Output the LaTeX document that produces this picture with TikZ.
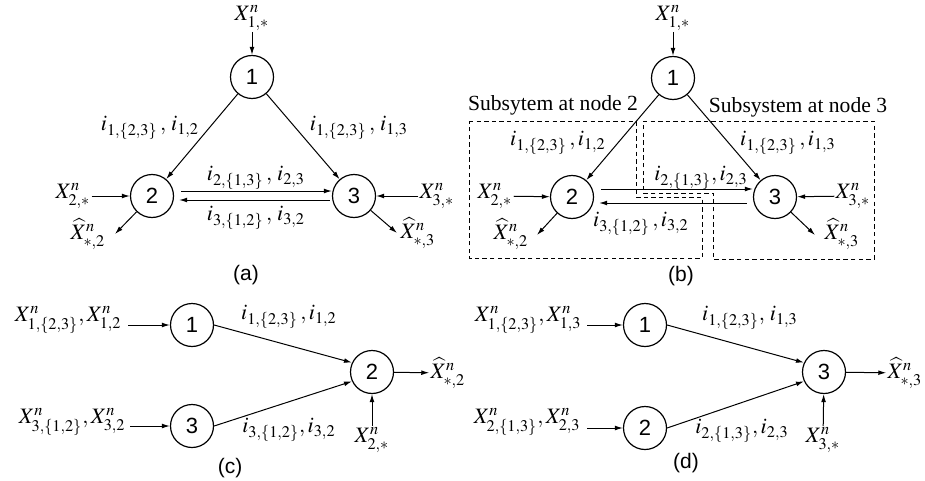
\documentclass[tikz,border=0pt]{standalone}
\usepackage{mathptmx}
\usepackage[no-math]{fontspec}
\setmainfont{Liberation Serif}
\newfontfamily\lsans{Liberation Sans}
\usetikzlibrary{arrows.meta,calc}
\begin{document}
\begin{tikzpicture}[x=0.5pt,y=-0.5pt,
  every node/.style={inner sep=0.5pt},
  circ/.style={circle,draw,line width=0.6pt,inner sep=0pt,minimum size=21.5pt,font=\lsans\fontsize{11}{12}\selectfont},
  lab/.style={font=\fontsize{11}{13}\selectfont},
  txt/.style={font=\fontsize{10.8}{13}\selectfont},
  subcap/.style={font=\lsans\fontsize{10.5}{12}\selectfont},
  arr/.style={-{Latex[length=4pt,width=2.4pt]},line width=0.5pt},
  box/.style={dash pattern=on 2.2pt off 1.6pt,line width=0.5pt}]
\useasboundingbox (0,0) rectangle (925,481);

% ---------------- (a)
\node[circ] (A1) at (252,77) {1};
\node[circ] (A2) at (152,196) {2};
\node[circ] (A3) at (354,196) {3};
\node[lab] (XA1) at (252,18) {$X^n_{1,*}$};
\node[lab] (XA2) at (73,196) {$X^n_{2,*}$};
\node[lab] (XA3) at (437,196) {$X^n_{3,*}$};
\node[lab] (XHA2) at (88,234) {$\widehat{X}^n_{*,2}$};
\node[lab] (XHA3) at (418,233) {$\widehat{X}^n_{*,3}$};
\coordinate (TA2) at (115,234);
\coordinate (TA3) at (397,233);
\draw[arr] (XA1) -- (A1);
\draw[arr] (XA2) -- (A2);
\draw[arr] (XA3) -- (A3);
\draw[arr] (A2) -- (TA2);
\draw[arr] (A3) -- (TA3);
\draw[arr] (A1) -- (A2);
\draw[arr] (A1) -- (A3);
\draw[arr] ([shift={(7,-5)}]A2.east) -- ([shift={(0,-5)}]A3.west);
\draw[arr] ([shift={(-2,4)}]A3.west) -- ([shift={(5,4)}]A2.east);
\node[lab] (LA12) at (150,128) {$i_{1,\{2,3\}}\,,\,i_{1,2}$};
\node[lab] (LA13) at (359,128) {$i_{1,\{2,3\}}\,,\,i_{1,3}$};
\node[lab] (LA23) at (256,178) {$i_{2,\{1,3\}}\,,\,i_{2,3}$};
\node[lab] (LA32) at (256,218) {$i_{3,\{1,2\}}\,,\,i_{3,2}$};
\node[subcap] (CA) at (246,275) {(a)};

% ---------------- (b)
\draw[box] (469,121) -- (636,121) -- (636,197) -- (702,197) -- (702,258) -- (469,258) -- cycle;
\draw[box] (643,121) -- (874,121) -- (874,259) -- (713,259) -- (713,193) -- (643,193) -- cycle;
\node[circ] (B1) at (673,78) {1};
\node[circ] (B2) at (572,197) {2};
\node[circ] (B3) at (775,197) {3};
\node[lab] (XB1) at (673,18) {$X^n_{1,*}$};
\node[lab] (XB2) at (495,196) {$X^n_{2,*}$};
\node[lab] (XB3) at (853,196) {$X^n_{3,*}$};
\node[lab] (XHB2) at (511,234) {$\widehat{X}^n_{*,2}$};
\node[lab] (XHB3) at (842,234) {$\widehat{X}^n_{*,3}$};
\coordinate (TB2) at (537,235);
\coordinate (TB3) at (815,235);
\draw[arr] (XB1) -- (B1);
\draw[arr] (XB2) -- (B2);
\draw[arr] (XB3) -- (B3);
\draw[arr] (B2) -- (TB2);
\draw[arr] (B3) -- (TB3);
\draw[arr] (B1) -- (B2);
\draw[arr] (B1) -- (B3);
\draw[arr] ([shift={(7,-8)}]B2.east) -- ([shift={(0,-8)}]B3.west);
\draw[arr] ([shift={(-6,6)}]B3.west) -- ([shift={(5,6)}]B2.east);
\node[txt] (SB2) at (553,105) {Subsytem at node 2};
\node[txt] (SB3) at (798,107) {Subsystem at node 3};
\node[lab] (LB12) at (558,143) {$i_{1,\{2,3\}}\,,i_{1,2}$};
\node[lab] (LB13) at (788,143) {$i_{1,\{2,3\}}\,,i_{1,3}$};
\node[lab] (LB23) at (701,178) {$i_{2,\{1,3\}},i_{2,3}$};
\node[lab] (LB32) at (641,224) {$i_{3,\{1,2\}}\,,i_{3,2}$};
\node[subcap] (CB) at (681,276) {(b)};

% ---------------- (c)
\node[circ] (C1) at (192,325) {1};
\node[circ] (C2) at (372,372) {2};
\node[circ] (C3) at (192,426) {3};
\node[lab,anchor=east] (XC1) at (123,320) {$X^n_{1,\{2,3\}},X^n_{1,2}$};
\node[lab,anchor=east] (XC3) at (127,422) {$X^n_{3,\{1,2\}},X^n_{3,2}$};
\node[lab] (XHC2) at (448,373) {$\widehat{X}^n_{*,2}$};
\node[lab] (XC2) at (372,440) {$X^n_{2,*}$};
\coordinate (SC1) at (128,325);
\coordinate (SC3) at (130,426);
\draw[arr] (SC1) -- (C1);
\draw[arr] (SC3) -- (C3);
\draw[arr] (C1.east) -- (C2.155);
\draw[arr] (C3.east) -- (C2.205);
\draw[arr] (C2) -- (XHC2);
\draw[arr] (XC2) -- (C2);
\node[lab] (LC12) at (289,317) {$i_{1,\{2,3\}}\,,i_{1,2}$};
\node[lab] (LC32) at (289,430) {$i_{3,\{1,2\}},i_{3,2}$};
\node[subcap] (CC) at (230,468) {(c)};

% ---------------- (d)
\node[circ] (D1) at (645,325) {1};
\node[circ] (D3) at (824,372) {3};
\node[circ] (D2) at (645,428) {2};
\node[lab,anchor=east] (XD1) at (583,320) {$X^n_{1,\{2,3\}},X^n_{1,3}$};
\node[lab,anchor=east] (XD2) at (582,422) {$X^n_{2,\{1,3\}},X^n_{2,3}$};
\node[lab] (XHD3) at (905,373) {$\widehat{X}^n_{*,3}$};
\node[lab] (XD3) at (823,440) {$X^n_{3,*}$};
\coordinate (SD1) at (587,325);
\coordinate (SD2) at (587,428);
\draw[arr] (SD1) -- (D1);
\draw[arr] (SD2) -- (D2);
\draw[arr] (D1.east) -- (D3.155);
\draw[arr] (D2.east) -- (D3.205);
\draw[arr] (D3) -- (XHD3);
\draw[arr] (XD3) -- (D3);
\node[lab] (LD13) at (750,318) {$i_{1,\{2,3\}},\,i_{1,3}$};
\node[lab] (LD23) at (742,431) {$i_{2,\{1,3\}},i_{2,3}$};
\node[subcap] (CD) at (686,463) {(d)};
\end{tikzpicture}
\end{document}
